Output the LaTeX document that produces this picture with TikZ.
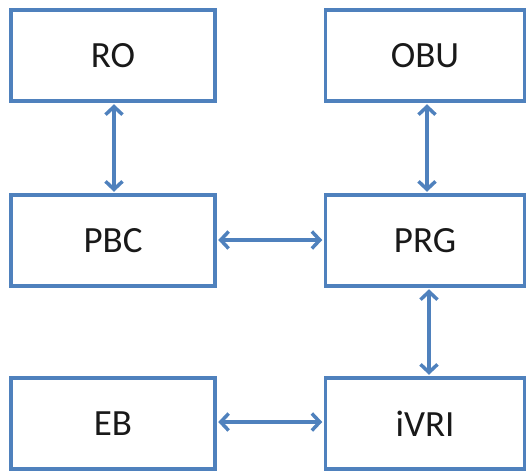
\documentclass[tikz,border=0pt]{standalone}
\usepackage{fontspec}
\setmainfont{Carlito}
\usetikzlibrary{arrows.meta}
\definecolor{boxblue}{HTML}{4F81BD}
\tikzset{
  blk/.style={draw=boxblue, line width=3.5pt, minimum width=202pt, minimum height=91pt,
    inner sep=0pt, font=\fontsize{37}{42}\selectfont, text=black!90},
  conn/.style={draw=boxblue, line width=3.5pt,
    {Straight Barb[length=8pt,width=17pt,line width=3.5pt]}-{Straight Barb[length=8pt,width=17pt,line width=3.5pt]},
    shorten <=1.5pt, shorten >=1.5pt}
}
\begin{document}
\begin{tikzpicture}[x=1pt,y=-1pt]
\useasboundingbox (0,0) rectangle (529,472);
\node[blk, minimum width=204pt] (RO)  at (113,55.5) {RO};
\node[blk, minimum width=199pt] (OBU) at (425,55.5) {OBU};
\node[blk, minimum width=204pt] (PBC) at (113,240.5) {PBC};
\node[blk, minimum width=199pt] (PRG) at (425,240.5) {PRG};
\node[blk, minimum width=204pt] (EB)  at (113,423.5) {EB};
\node[blk, minimum width=199pt] (iVRI) at (425,423.5) {iVRI};
\draw[conn] ([xshift=1pt]RO.south) -- ([xshift=1pt]PBC.north);
\draw[conn] ([xshift=2pt]OBU.south) -- ([xshift=2pt]PRG.north);
\draw[conn] ([yshift=0.5pt]PBC.east) -- ([yshift=0.5pt]PRG.west);
\draw[conn] ([xshift=4pt]PRG.south) -- ([xshift=4pt]iVRI.north);
\draw[conn] ([yshift=1.5pt]EB.east) -- ([yshift=1.5pt]iVRI.west);
\end{tikzpicture}
\end{document}
